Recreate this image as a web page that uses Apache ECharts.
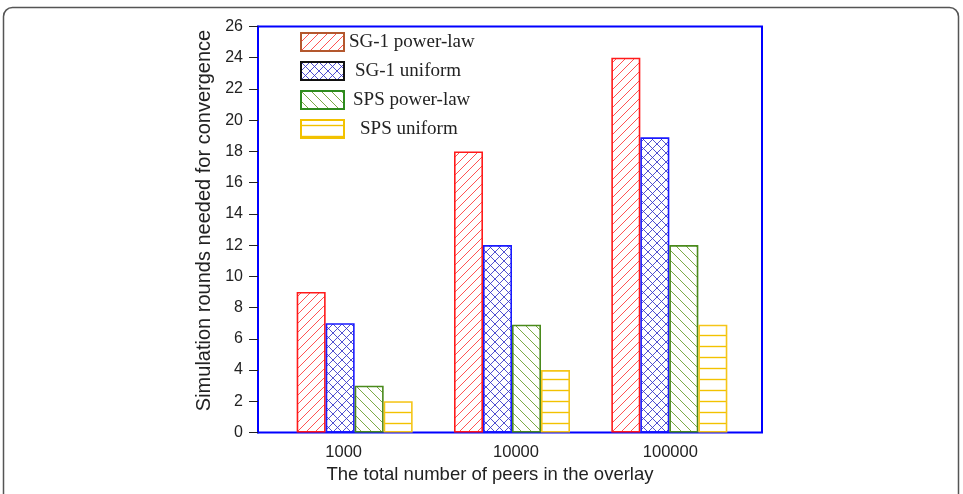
<!DOCTYPE html>
<html><head><meta charset="utf-8">
<script src="https://cdn.jsdelivr.net/npm/echarts@6/dist/echarts.min.js"></script>
<style>html,body{margin:0;padding:0;background:#fff}#c{width:963px;height:494px}</style>
</head><body><div id="c"></div>
<script>
const categories = ['1000', '10000', '100000'];
const seriesNames = ['SG-1 power-law', 'SG-1 uniform', 'SPS power-law', 'SPS uniform'];
const sg1PowerLaw = [9, 18, 24];
const sg1Uniform = [7, 12, 18.9];
const spsPowerLaw = [3, 6.9, 12];
const spsUniform = [2, 4, 6.9];
const yMin = 0, yMax = 26, yInterval = 2;

function hatch(type, color, p, lw) {
  const c = document.createElement('canvas');
  c.width = p; c.height = p;
  const g = c.getContext('2d');
  g.fillStyle = '#fff'; g.fillRect(0, 0, p, p);
  g.strokeStyle = color; g.lineWidth = lw;
  g.beginPath();
  if (type === 'fwd' || type === 'cross') {
    g.moveTo(0, p); g.lineTo(p, 0);
    g.moveTo(-1, 1); g.lineTo(1, -1);
    g.moveTo(p - 1, p + 1); g.lineTo(p + 1, p - 1);
  }
  if (type === 'back' || type === 'cross') {
    g.moveTo(0, 0); g.lineTo(p, p);
    g.moveTo(-1, p - 1); g.lineTo(1, p + 1);
    g.moveTo(p - 1, -1); g.lineTo(p + 1, 1);
  }
  if (type === 'horiz') {
    g.moveTo(0, p / 2); g.lineTo(p, p / 2);
  }
  g.stroke();
  return { image: c, repeat: 'repeat' };
}

const styles = [
  { fill: hatch('fwd', 'rgba(255,40,40,0.8)', 9, 1), border: '#ff1a1a', legendBorder: '#b4582e' },
  { fill: hatch('cross', 'rgba(50,50,200,0.85)', 9, 1), border: '#1a1aff', legendBorder: '#111111' },
  { fill: hatch('back', 'rgba(110,160,50,0.9)', 10, 1), border: '#4a8a1c', legendBorder: '#2e8b1e' },
  { fill: hatch('horiz', '#f2c200', 11, 1.4), border: '#f5c518', legendBorder: '#f2c200' }
];
const dataSets = [sg1PowerLaw, sg1Uniform, spsPowerLaw, spsUniform];
const legendPads = [0, 6, 4, 11];
const sans = 'Liberation Sans, Arial, sans-serif';

const chart = echarts.init(document.getElementById('c'), null, { renderer: 'canvas' });
chart.setOption({
  backgroundColor: '#fff',
  animation: false,
  graphic: [{
    type: 'rect', left: 1, top: 5, silent: true,
    shape: { width: 955, height: 520, r: 9 },
    style: { fill: 'none', stroke: '#555', lineWidth: 1.5 }
  }],
  grid: [
    { left: 258, right: 201, top: 26.5, bottom: 61.5, show: true, borderColor: '#0000ff', borderWidth: 2, backgroundColor: 'transparent' },
    { left: 276, right: 215, top: 26.5, bottom: 61.5 }
  ],
  legend: {
    orient: 'vertical', left: 300, top: 32, padding: 0,
    itemWidth: 43, itemHeight: 18, itemGap: 9,
    icon: 'rect',
    textStyle: { fontFamily: 'Liberation Serif, Times New Roman, serif', fontSize: 19, color: '#222', lineHeight: 18 },
    data: seriesNames.map((n, i) => ({
      name: n,
      itemStyle: { borderColor: styles[i].legendBorder, borderWidth: 2 },
      textStyle: { padding: [0, 0, 0, legendPads[i]] }
    }))
  },
  xAxis: [
    { gridIndex: 0, type: 'category', data: categories, show: false },
    {
      gridIndex: 1, type: 'category', data: categories,
      axisLine: { show: false }, axisTick: { show: false },
      axisLabel: {
        margin: 11, color: '#222', fontFamily: sans, fontSize: 16.5,
        formatter: (v, i) => '{l' + i + '|' + v + '}',
        rich: {
          l0: { fontSize: 16.5, color: '#222', fontFamily: sans, padding: [0, 22, 0, 0] },
          l1: { fontSize: 16.5, color: '#222', fontFamily: sans, padding: [0, 0, 0, 8] },
          l2: { fontSize: 16.5, color: '#222', fontFamily: sans, padding: [0, 0, 0, 2] }
        }
      },
      name: 'The total number of peers in the overlay', nameLocation: 'middle', nameGap: 28,
      nameTextStyle: { color: '#222', fontFamily: sans, fontSize: 18.5, padding: [0, 44, 0, 0] }
    }
  ],
  yAxis: [
    {
      gridIndex: 0, type: 'value', min: yMin, max: yMax, interval: yInterval,
      axisLine: { show: true, lineStyle: { color: '#0000ff', width: 2 } },
      axisTick: { show: true, inside: false, length: 9, lineStyle: { color: '#222', width: 1 } },
      axisLabel: { margin: 15, color: '#222', fontFamily: sans, fontSize: 16 },
      splitLine: { show: false },
      name: 'Simulation rounds needed for convergence', nameLocation: 'middle', nameGap: 44,
      nameTextStyle: { color: '#222', fontFamily: sans, fontSize: 20, padding: [0, 0, 0, 18] }
    },
    { gridIndex: 1, type: 'value', min: yMin, max: yMax, interval: yInterval, show: false, splitLine: { show: false } }
  ],
  series: seriesNames.map((n, i) => ({
    name: n, type: 'bar', xAxisIndex: 1, yAxisIndex: 1,
    data: dataSets[i], barWidth: 29, barGap: '0%',
    itemStyle: { color: styles[i].fill, borderColor: styles[i].border, borderWidth: 1.6 }
  }))
});
</script></body></html>
